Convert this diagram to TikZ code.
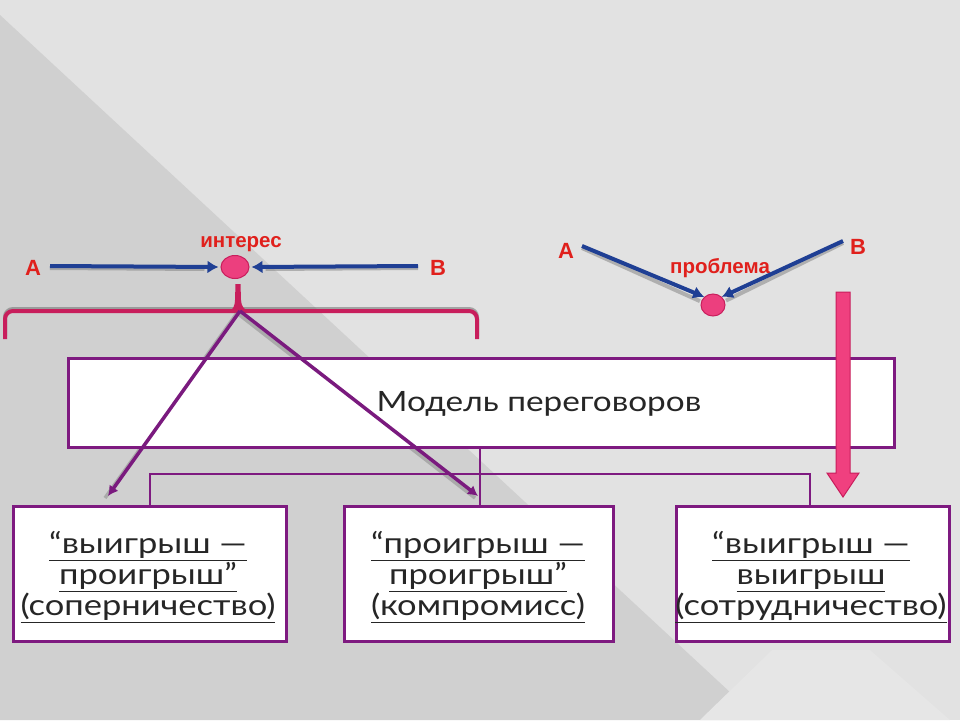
\documentclass[tikz,border=0pt]{standalone}
\usepackage{fontspec}
\setmainfont{Liberation Sans}
\newfontfamily\gothic[FakeStretch=1.19]{Lato}
\usetikzlibrary{arrows.meta,calc,shapes.geometric}
\definecolor{bgdark}{HTML}{D0D0D0}
\definecolor{bglight}{HTML}{E2E2E2}
\definecolor{lbl}{HTML}{E0201C}
\definecolor{navy}{HTML}{1F3F94}
\definecolor{dotpink}{HTML}{EC3F7E}
\definecolor{brk}{HTML}{C81E5C}
\definecolor{purp}{HTML}{7A1A7E}
\definecolor{boxline}{HTML}{7E1A80}
\definecolor{bigpink}{HTML}{F0407F}
\definecolor{txt}{HTML}{262626}
\tikzset{
  lab/.style={font=\bfseries\fontsize{22}{24}\selectfont, text=lbl, inner sep=0pt},
  small/.style={font=\bfseries\fontsize{20.5}{22}\selectfont, text=lbl, inner sep=0pt},
  blue arrow/.style={draw=navy, line width=4pt, -{Latex[length=11pt,width=13pt]}},
  blue shadow/.style={draw=black!55, line width=4pt, opacity=0.45},
  dot/.style={ellipse, fill=dotpink, draw=brk, line width=1pt, inner sep=0pt},
  purp arrow/.style={draw=purp, line width=3.5pt, -{Latex[length=10pt,width=11pt]}},
  purp shadow/.style={draw=black!55, line width=3.5pt, opacity=0.4},
  wbox/.style={draw=boxline, line width=3pt, fill=white, inner sep=0pt},
  conn/.style={draw=boxline, line width=2.5pt},
  btext/.style={font=\gothic\fontsize{29}{31}\selectfont, text=txt, align=center, inner sep=0pt},
}
\newcommand{\ul}[1]{\underline{#1}}
\begin{document}
\begin{tikzpicture}[x=1pt,y=-1pt]
\useasboundingbox (0,0) rectangle (960,720);
% background
\fill[bglight] (0,0) rectangle (960,720);
\fill[bgdark] (0,15) -- (760,720) -- (0,720) -- cycle;
\fill[bglight!85!white] (700,720) -- (772,650) -- (870,650) -- (950,720) -- cycle;

% ---------- left group ----------
\node[lab] (A1) at (33,268) {A};
\node[lab] (B1) at (438,268) {B};
\node[small] (int) at (241,244) {интерес};
\node[dot, minimum width=28pt, minimum height=23pt] (d1) at (235,267) {};
\coordinate (a1s) at (50,266);
\coordinate (b1s) at (418,266);
\draw[blue shadow] ([yshift=-2pt]a1s) -- ([yshift=-2pt,xshift=-16pt]d1.west);
\draw[blue shadow] ([yshift=-2pt]b1s) -- ([yshift=-2pt,xshift=16pt]d1.east);
\draw[blue arrow] (a1s) -- ([xshift=-2pt]d1.west);
\draw[blue arrow] (b1s) -- ([xshift=2pt]d1.east);

% stem and bracket
\coordinate (apex) at (240,311);
\draw[draw=black!60, line width=4pt, opacity=0.5, rounded corners=8pt] (5,336) -- (5,309) -- (477,309) -- (477,336);
\draw[draw=brk, line width=4pt, rounded corners=8pt] (5,339) -- (5,311) -- (477,311) -- (477,339);
\fill[brk] (235.5,284) -- (240.5,284) -- (241,300) to[out=-90,in=180] (250,311) -- (228,311) to[out=0,in=-90] (235,300) -- cycle;

% purple arrows
\coordinate (t1) at (108,496);
\coordinate (t2) at (478,496);
\draw[purp shadow] ([xshift=-3pt,yshift=-2pt]apex) -- ([xshift=-3pt,yshift=-2pt]t1);
\draw[purp shadow] ([xshift=-3pt,yshift=-2pt]apex) -- ([xshift=-3pt,yshift=-2pt]t2);

% ---------- right group ----------
\node[lab] (A2) at (566,251) {A};
\node[lab] (B2) at (858,247) {B};
\node[small] (prob) at (720,268) {проблема};
\node[dot, minimum width=24pt, minimum height=22pt] (d2) at (713,305) {};
\coordinate (a2s) at (582,246);
\coordinate (b2s) at (843,241);
\draw[blue shadow] ([yshift=-2pt]a2s) -- ([yshift=-2pt]$(a2s)!0.9!(d2)$);
\draw[blue shadow] ([yshift=-2pt]b2s) -- ([yshift=-2pt]$(b2s)!0.9!(d2)$);
\draw[blue arrow] (a2s) -- (d2.north west);
\draw[blue arrow] (b2s) -- (d2.north east);

% ---------- boxes ----------
\node[wbox, minimum width=826pt, minimum height=89pt, anchor=north west] (model) at (67,357) {};
\node[font=\gothic\fontsize{28}{30}\selectfont, text=txt] (mt) at (539,404) {Модель переговоров};

\node[wbox, minimum width=273pt, minimum height=135pt, anchor=north west] (b1) at (12,505) {};
\node[wbox, minimum width=269pt, minimum height=135pt, anchor=north west] (b2) at (343,505) {};
\node[wbox, minimum width=273pt, minimum height=135pt, anchor=north west] (b3) at (675,505) {};

\node[btext] (t1txt) at (148,577) {\ul{“выигрыш —}\\\ul{проигрыш”}\\\ul{(соперничество)}};
\node[btext] (t2txt) at (478,577) {\ul{“проигрыш —}\\\ul{проигрыш”}\\\ul{(компромисс)}};
\node[btext] (t3txt) at (811,577) {\ul{“выигрыш —}\\\ul{выигрыш}\\\ul{(сотрудничество)}};

% connectors
\coordinate (j) at (480,474);
\draw[conn] (model.south -| j) -- (j);
\draw[conn] (b1.north -| 150,0) -- (150,474) -- (810,474) -- (b3.north -| 810,0);
\draw[conn] (j) -- (b2.north -| j);

% purple arrows on top
\draw[purp arrow] (apex) -- (t1);
\draw[purp arrow] (apex) -- (t2);

% big pink arrow
\coordinate (pk) at (843,292);
\coordinate (pt) at (843,497);
\filldraw[fill=bigpink, draw=brk, line width=1pt]
  ([xshift=-7pt]pk) -- ([xshift=7pt]pk) -- ([xshift=7pt,yshift=24pt]pt) -- ([xshift=16pt,yshift=24pt]pt)
  -- (pt) -- ([xshift=-16pt,yshift=24pt]pt) -- ([xshift=-7pt,yshift=24pt]pt) -- cycle;
\end{tikzpicture}
\end{document}
